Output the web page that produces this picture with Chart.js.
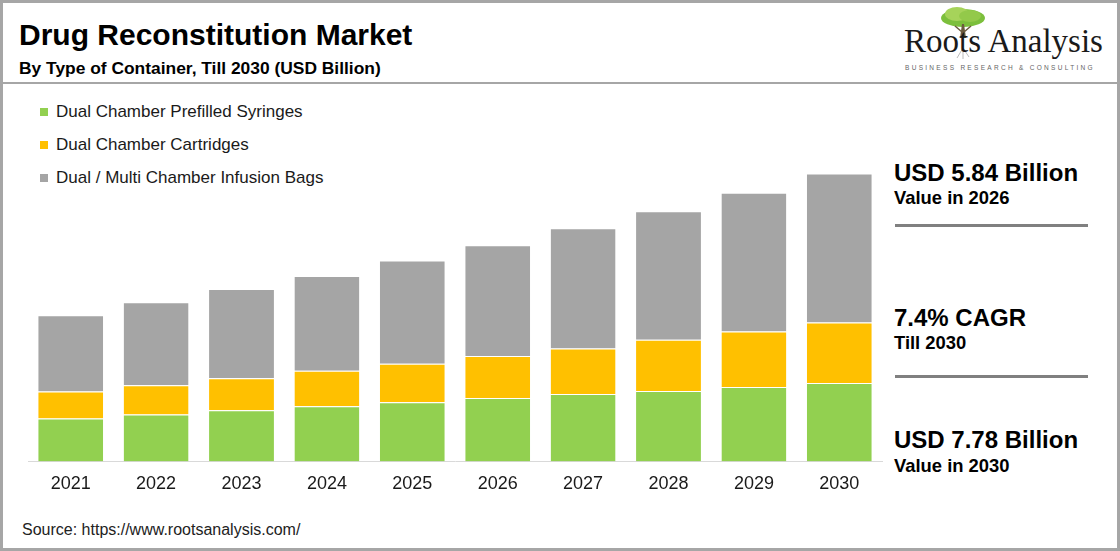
<!DOCTYPE html>
<html>
<head>
<meta charset="utf-8">
<script src="https://cdn.jsdelivr.net/npm/chart.js@4.4.1/dist/chart.umd.min.js"></script>
<style>
  html, body { margin: 0; padding: 0; background: #fff; }
  body { width: 1120px; height: 551px; position: relative; overflow: hidden;
         font-family: "Liberation Sans", Arial, sans-serif; }
  .frame { position: absolute; left: 0; top: 0; width: 1114px; height: 545px; border: 3px solid #a6a6a6; }
  .title { position: absolute; left: 19px; top: 18px; font-size: 30px; font-weight: bold; color: #000; }
  .subtitle { position: absolute; left: 19px; top: 58px; font-size: 17.4px; font-weight: bold; color: #000; }
  .hline { position: absolute; left: 3px; top: 82px; width: 1114px; height: 2px; background: #a6a6a6; }
  .logo { position: absolute; left: 904px; top: 23px; font-family: "Liberation Serif", "Times New Roman", serif;
          font-size: 33px; color: #1a1a1a; white-space: nowrap; }
  .tag { position: absolute; left: 905px; top: 64px; font-size: 6.5px; letter-spacing: 2.3px; color: #666; white-space: nowrap; }
  .legend { position: absolute; left: 40px; top: 100px; }
  .legend div { height: 33px; line-height: 24px; font-size: 17px; color: #1a1a1a; white-space: nowrap; }
  .legend span { display: inline-block; width: 8px; height: 8px; margin-right: 8px; vertical-align: 1px; }
  #wrap { position: absolute; left: 0; top: 105px; width: 890px; height: 402px; }
  .big { position: absolute; left: 894px; font-size: 24px; font-weight: bold; color: #000; white-space: nowrap; }
  .small { position: absolute; left: 894px; font-size: 18.4px; font-weight: bold; color: #000; white-space: nowrap; }
  .sep { position: absolute; left: 895px; width: 193px; height: 3px; background: #808080; }
  .source { position: absolute; left: 22px; top: 521px; font-size: 16px; color: #222; }
</style>
</head>
<body>
<div class="frame"></div>
<div class="title">Drug Reconstitution Market</div>
<div class="subtitle">By Type of Container, Till 2030 (USD Billion)</div>
<div class="hline"></div>

<svg style="position:absolute;left:935px;top:4px" width="60" height="56" viewBox="0 0 60 56">
  <ellipse cx="28" cy="14" rx="22" ry="9" fill="#7cbf3c"/>
  <ellipse cx="22" cy="10" rx="12" ry="7" fill="#a6d35a"/>
  <ellipse cx="35" cy="12" rx="11" ry="6" fill="#93c94a"/>
  <path d="M27 20 L25 34 L31 34 L29 20 Z" fill="#6b5b3e"/>
  <path d="M20 22 L27 28 M36 22 L29 28" stroke="#6b5b3e" stroke-width="1.5"/>
  <path d="M28 44 L22 54 M28 44 L34 53 M28 44 L28 55" stroke="#bbb" stroke-width="1"/>
</svg>
<div class="logo">Roots Analysis</div>
<div class="tag">BUSINESS RESEARCH &amp; CONSULTING</div>

<div class="legend">
  <div><span style="background:#92d050"></span>Dual Chamber Prefilled Syringes</div>
  <div><span style="background:#ffc000"></span>Dual Chamber Cartridges</div>
  <div><span style="background:#a5a5a5"></span>Dual / Multi Chamber Infusion Bags</div>
</div>

<div id="wrap"><canvas id="chart"></canvas></div>

<div class="big" style="top:159px">USD 5.84 Billion</div>
<div class="small" style="top:187px">Value in 2026</div>
<div class="sep" style="top:224px"></div>
<div class="big" style="top:304px">7.4% CAGR</div>
<div class="small" style="top:332px">Till 2030</div>
<div class="sep" style="top:375px"></div>
<div class="big" style="top:426px">USD 7.78 Billion</div>
<div class="small" style="top:455px">Value in 2030</div>

<div class="source">Source: https://www.rootsanalysis.com/</div>

<script>
// Chart values (USD Billion)
const years = ['2021', '2022', '2023', '2024', '2025', '2026', '2027', '2028', '2029', '2030'];
const syringes = [1.16, 1.27, 1.38, 1.49, 1.60, 1.71, 1.82, 1.90, 2.01, 2.12];
const cartridges = [0.73, 0.79, 0.87, 0.96, 1.04, 1.14, 1.23, 1.39, 1.50, 1.63];
const infusionBags = [2.06, 2.24, 2.41, 2.56, 2.79, 2.99, 3.25, 3.47, 3.75, 4.03];

function makeDataset(label, data, color) {
    return {
        label: label,
        data: data,
        backgroundColor: color,
        borderColor: '#ffffff',
        borderWidth: { top: 1, right: 0, bottom: 0, left: 0 },
        barPercentage: 0.76,
        categoryPercentage: 1.0
    };
}

const ctx = document.getElementById('chart').getContext('2d');
const chart = new Chart(ctx, {
    type: 'bar',
    data: {
        labels: years,
        datasets: [
            makeDataset('Dual Chamber Prefilled Syringes', syringes, '#92d050'),
            makeDataset('Dual Chamber Cartridges', cartridges, '#ffc000'),
            makeDataset('Dual / Multi Chamber Infusion Bags', infusionBags, '#a5a5a5')
        ]
    },
    options: {
        responsive: true,
        maintainAspectRatio: false,
        animation: false,
        layout: { padding: { left: 28, right: 8, top: 0, bottom: 0 } },
        scales: {
            x: {
                stacked: true,
                grid: { display: false, drawTicks: false },
                border: { display: true, color: '#d9d9d9', width: 1 },
                ticks: {
                    color: '#1a1a1a',
                    padding: 12,
                    font: { family: '"Liberation Sans", Arial, sans-serif', size: 18 }
                }
            },
            y: {
                stacked: true,
                display: false,
                min: 0,
                max: 9.63
            }
        },
        plugins: {
            legend: { display: false },
            tooltip: { enabled: false }
        }
    }
});
</script>
</body>
</html>
